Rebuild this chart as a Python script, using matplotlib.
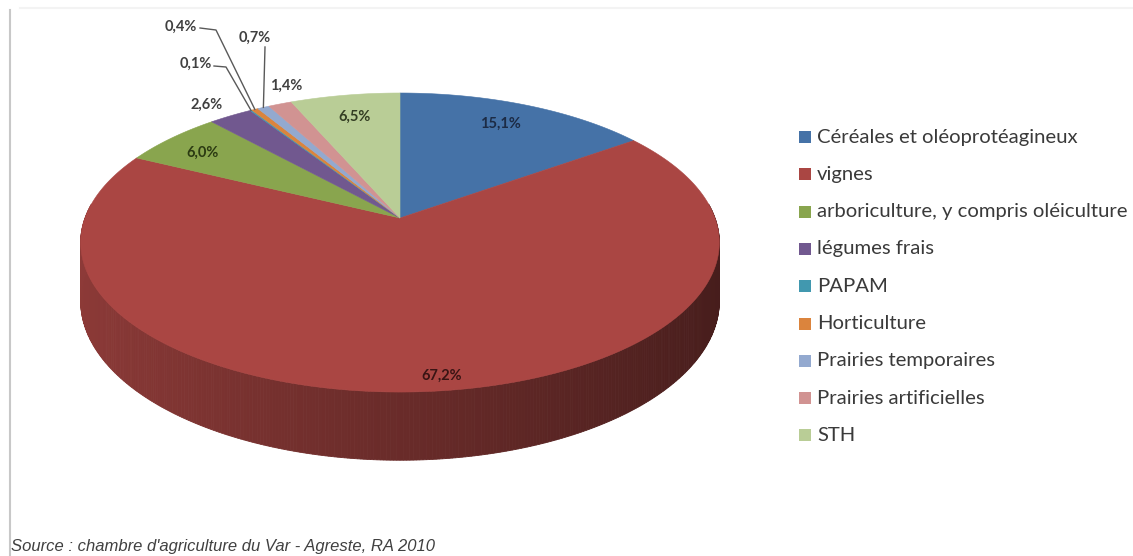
import numpy as np
import matplotlib.pyplot as plt
from matplotlib.patches import Polygon, Rectangle
from matplotlib.colors import to_rgb

# Répartition de la SAU du Var (RA 2010), en %
categories = ['Céréales et oléoprotéagineux', 'vignes',
              'arboriculture, y compris oléiculture', 'légumes frais',
              'PAPAM', 'Horticulture', 'Prairies temporaires',
              'Prairies artificielles', 'STH']
values = [15.1, 67.2, 6.0, 2.6, 0.1, 0.4, 0.7, 1.4, 6.5]
colors = ['#4572A7', '#AA4643', '#89A54E', '#71588F', '#4198AF',
          '#DB843D', '#93A9CF', '#D19392', '#B9CD96']
label_colors = ['#1c2b45', '#3a1414', '#2b3a12', '#404040', '#404040',
                '#404040', '#404040', '#404040', '#333d22']
source = "Source : chambre d'agriculture du Var - Agreste, RA 2010"

# geometry of the 3D pie (pixels)
CX, CY = 400, 218
RX, RY = 315, 145.5
K = 0.164        # perspective
DEPTH = 57


def project(theta, r=1.0, z=0.0):
    u = r * np.sin(theta)
    v = r * np.cos(theta)
    s = 1.0 / (1.0 + K * v)
    return CX + RX * u * s, CY - RY * v * s + DEPTH * z * s


fig = plt.figure(figsize=(11.33, 5.56), dpi=100)
ax = fig.add_axes([0, 0, 1, 1])
ax.set_xlim(0, 1133)
ax.set_ylim(556, 0)
ax.axis('off')

# chart frame (left edge visible, top edge very faint)
ax.plot([20, 1133], [8, 8], color='#f3f3f3', lw=1.5)
ax.plot([10, 10], [10, 556], color='#c8c8c8', lw=1.5)

bounds = np.concatenate([[0], np.cumsum(values)]) / 100.0 * 2 * np.pi

# side of the cylinder
t = np.linspace(0, 2 * np.pi, 721)
for t0, t1 in zip(t[:-1], t[1:]):
    tm = 0.5 * (t0 + t1)
    if np.cos(tm) > 0.1:
        continue
    idx = np.searchsorted(bounds, tm) - 1
    shade = 0.62 - 0.21 * np.sin(tm)
    c = np.clip(np.array(to_rgb(colors[idx])) * shade, 0, 1)
    tt = np.array([t0, t1])
    xt, yt = project(tt)
    xb, yb = project(tt[::-1], z=1)
    ax.add_patch(Polygon(np.column_stack([np.r_[xt, xb], np.r_[yt, yb]]),
                         closed=True, fc=c, ec=c, lw=0.6))

# top faces
for i, col in enumerate(colors):
    tt = np.linspace(bounds[i], bounds[i + 1], max(3, int(values[i] * 6)))
    x, y = project(tt)
    pts = np.column_stack([np.r_[CX, x], np.r_[CY, y]])
    ax.add_patch(Polygon(pts, closed=True, fc=col, ec=col, lw=0.4))

# data labels
label_pos = [(500, 124), (442, 376), (203, 153), (207, 105), (196, 64),
             (181, 27), (255, 38), (286, 86), (355, 117)]
for i, v in enumerate(values):
    txt = f"{v:.1f}".replace('.', ',') + '%'
    ax.text(*label_pos[i], txt, ha='center', va='center', fontsize=10.5,
            family='Lato', fontweight='bold', color=label_colors[i])

# leader lines for the small slices
leaders = {4: [(214, 66), (226, 67)], 5: [(200, 28), (216, 30)],
           6: [(265, 47)]}
for i, pts in leaders.items():
    ex, ey = project(0.5 * (bounds[i] + bounds[i + 1]))
    xs = [p[0] for p in pts] + [ex]
    ys = [p[1] for p in pts] + [ey]
    ax.plot(xs, ys, color='#595959', lw=1)

# legend
for i, name in enumerate(categories):
    y = 137 + i * 37.3
    ax.add_patch(Rectangle((799, y - 6), 12, 12, fc=colors[i], ec='none'))
    ax.text(817, y, name, ha='left', va='center', fontsize=14.6,
            family='Lato', color='#3a3a3a')

ax.text(11, 546, source, ha='left', va='center', fontsize=12,
        family='Liberation Sans', style='italic', color='#404040')

fig.savefig('out.png', dpi=100)
